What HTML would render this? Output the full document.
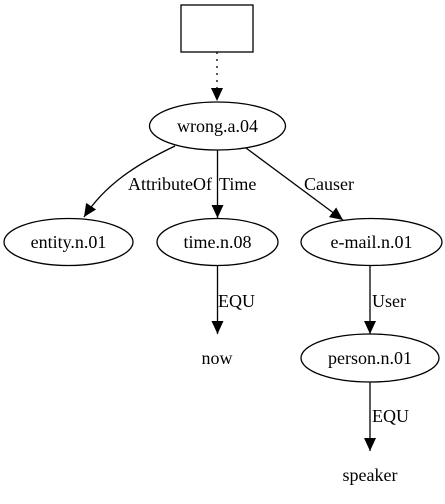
<!DOCTYPE html>
<html><head><style>body{margin:0;background:#fff}svg{display:block}text{font-family:"Liberation Serif",serif;font-size:18px;fill:#000}</style></head><body>
<svg width="445" height="504" viewBox="0 0 445 504">
<defs><marker id="a" markerWidth="14" markerHeight="14" refX="13" refY="6" orient="auto" markerUnits="userSpaceOnUse"><path d="M0,0 L13,6 L0,12 Z" fill="#000"/></marker></defs>
<g fill="none" stroke="#000" stroke-width="1.3">
<rect x="181" y="5" width="72" height="47"/>
<line x1="217" y1="52" x2="217" y2="101" stroke-dasharray="2,5" marker-end="url(#a)"/>
<ellipse cx="217.5" cy="126" rx="68" ry="24"/>
<ellipse cx="68.5" cy="242" rx="64.5" ry="23.5"/>
<ellipse cx="217.5" cy="242" rx="60.5" ry="23.5"/>
<ellipse cx="371.5" cy="242" rx="70.5" ry="23.5"/>
<ellipse cx="370" cy="358" rx="69" ry="24"/>
<path d="M175,146 C135,165 105,185 84,217" marker-end="url(#a)"/>
<line x1="217.5" y1="150" x2="217.5" y2="218" marker-end="url(#a)"/>
<path d="M246,148 L343,220" marker-end="url(#a)"/>
<line x1="217.5" y1="266" x2="217.5" y2="334" marker-end="url(#a)"/>
<line x1="370" y1="266" x2="370" y2="334" marker-end="url(#a)"/>
<line x1="370" y1="382" x2="370" y2="451" marker-end="url(#a)"/>
</g>
<g text-anchor="middle">
<text x="217.5" y="132">wrong.a.04</text>
<text x="68.5" y="248">entity.n.01</text>
<text x="217.5" y="248">time.n.08</text>
<text x="371.5" y="248">e-mail.n.01</text>
<text x="370" y="364">person.n.01</text>
<text x="217" y="364">now</text>
<text x="370" y="481">speaker</text>
</g>
<text x="128" y="190">AttributeOf</text>
<text x="219" y="190">Time</text>
<text x="304" y="190">Causer</text>
<text x="218" y="307">EQU</text>
<text x="372" y="307">User</text>
<text x="372" y="422">EQU</text>
</svg>
</body></html>
